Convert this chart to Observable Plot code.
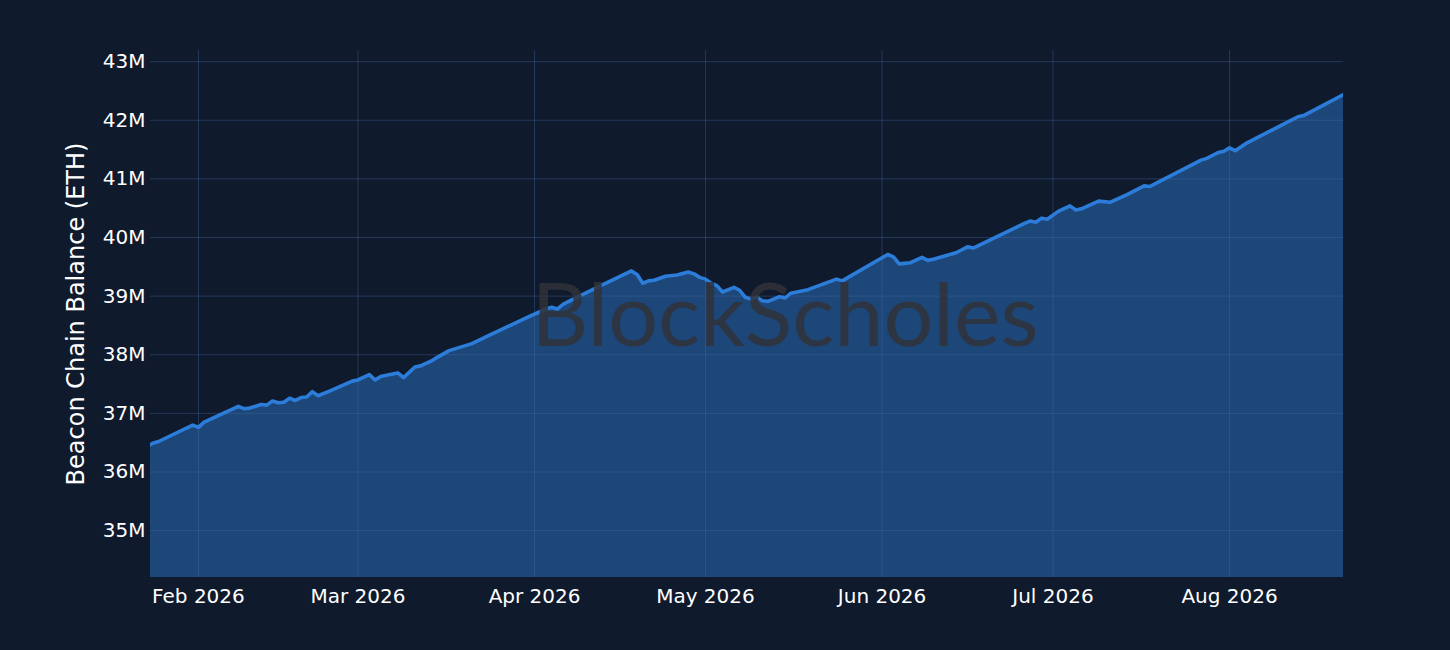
<!DOCTYPE html>
<html>
<head>
<meta charset="utf-8">
<script src="https://cdn.jsdelivr.net/npm/d3@7"></script>
<script src="https://cdn.jsdelivr.net/npm/@observablehq/plot@0.6"></script>
<style>
  html, body { margin: 0; padding: 0; background: #0f1a2d; }
  #chart { width: 1450px; height: 650px; }
</style>
</head>
<body>
<div id="chart"></div>
<script>
// Beacon chain balance, millions of ETH
const dates = [
  "2026-01-23","2026-01-24","2026-01-25","2026-01-31","2026-02-01","2026-02-02","2026-02-08","2026-02-09","2026-02-10",
  "2026-02-12","2026-02-13","2026-02-14","2026-02-15","2026-02-16","2026-02-17","2026-02-18","2026-02-19",
  "2026-02-20","2026-02-21","2026-02-22","2026-02-24","2026-02-28","2026-03-01","2026-03-03","2026-03-04",
  "2026-03-05","2026-03-06","2026-03-08","2026-03-09","2026-03-11","2026-03-12","2026-03-14","2026-03-15",
  "2026-03-17","2026-03-18","2026-03-21","2026-03-24","2026-03-31","2026-04-03","2026-04-04","2026-04-05",
  "2026-04-06","2026-04-07","2026-04-12","2026-04-18","2026-04-19","2026-04-20","2026-04-21","2026-04-22",
  "2026-04-24","2026-04-26","2026-04-28","2026-04-29","2026-04-30","2026-05-01","2026-05-02","2026-05-03",
  "2026-05-04","2026-05-06","2026-05-07","2026-05-08","2026-05-09","2026-05-10","2026-05-11","2026-05-12",
  "2026-05-14","2026-05-15","2026-05-16","2026-05-19","2026-05-24","2026-05-25","2026-06-02","2026-06-03",
  "2026-06-04","2026-06-06","2026-06-08","2026-06-09","2026-06-10","2026-06-14","2026-06-16","2026-06-17",
  "2026-06-20","2026-06-26","2026-06-27","2026-06-28","2026-06-29","2026-06-30","2026-07-02","2026-07-04",
  "2026-07-05","2026-07-06","2026-07-09","2026-07-11","2026-07-14","2026-07-17","2026-07-18","2026-07-20",
  "2026-07-27","2026-07-28","2026-07-30","2026-07-31","2026-08-01","2026-08-02","2026-08-04","2026-08-13",
  "2026-08-14","2026-08-21"
];
const balances = [
  36.44,36.49,36.52,36.80,36.76,36.85,37.12,37.08,37.09,
  37.15,37.14,37.21,37.18,37.19,37.26,37.22,37.27,
  37.28,37.37,37.30,37.38,37.55,37.57,37.66,37.57,
  37.63,37.65,37.69,37.61,37.79,37.81,37.90,37.96,
  38.07,38.10,38.19,38.33,38.65,38.78,38.81,38.78,
  38.86,38.91,39.15,39.43,39.37,39.22,39.26,39.27,
  39.34,39.36,39.41,39.38,39.32,39.29,39.22,39.18,
  39.07,39.15,39.10,38.98,38.95,38.98,38.92,38.91,
  38.99,38.97,39.05,39.11,39.29,39.26,39.71,39.67,
  39.55,39.57,39.66,39.61,39.63,39.74,39.84,39.82,
  39.96,40.24,40.28,40.26,40.33,40.31,40.45,40.54,
  40.47,40.49,40.62,40.60,40.73,40.88,40.87,40.97,
  41.32,41.35,41.45,41.47,41.53,41.48,41.61,42.06,
  42.08,42.44
];
const yTicks = [35, 36, 37, 38, 39, 40, 41, 42, 43];
const xTicks = ["2026-02-01","2026-03-01","2026-04-01","2026-05-01","2026-06-01","2026-07-01","2026-08-01"];
const yLabel = "Beacon Chain Balance (ETH)";
const watermark = "BlockScholes";

const yDomain = [34.2, 43.19];
const xDomain = [new Date("2026-01-23T14:00:00Z"), new Date("2026-08-21T00:00:00Z")];
const data = dates.map((d, i) => ({date: new Date(d), value: balances[i]}));
const xTickDates = xTicks.map(d => new Date(d));

const chart = Plot.plot({
  width: 1450,
  height: 650,
  marginLeft: 150,
  marginRight: 107,
  marginTop: 50,
  marginBottom: 73,
  style: {background: "transparent", color: "#ffffff", fontFamily: "DejaVu Sans, sans-serif", fontSize: "20px"},
  x: {type: "utc", domain: xDomain},
  y: {domain: yDomain},
  marks: [
    Plot.areaY(data, {x: "date", y1: yDomain[0], y2: "value", fill: "#1d4679", clip: true}),
    Plot.gridY(yTicks, {stroke: "#4a6fa8", strokeOpacity: 0.36, strokeWidth: 1}),
    Plot.gridX(xTickDates, {stroke: "#4a6fa8", strokeOpacity: 0.36, strokeWidth: 1}),
    Plot.lineY(data, {x: "date", y: "value", stroke: "#2c7dda", strokeWidth: 3.6, strokeLinejoin: "round", clip: true}),
    Plot.axisY(yTicks, {tickSize: 0, tickPadding: 5, tickFormat: d => d + "M", label: null, fontSize: 20, fill: "#ffffff"}),
    Plot.axisX(xTickDates, {tickSize: 0, tickPadding: 11, tickFormat: d3.utcFormat("%b %Y"), label: null, fontSize: 20, fill: "#ffffff"}),
    Plot.text([yLabel], {frameAnchor: "left", textAnchor: "middle", rotate: -90, dx: -74, fontSize: 24, fill: "#ffffff"}),
    Plot.text([watermark], {frameAnchor: "middle", dx: 38, dy: 4, fontSize: 88, fontFamily: "Lato, sans-serif", fontWeight: 400, fill: "rgb(48,51,57)", fillOpacity: 0.85})
  ]
});
document.getElementById("chart").appendChild(chart);
</script>
</body>
</html>
